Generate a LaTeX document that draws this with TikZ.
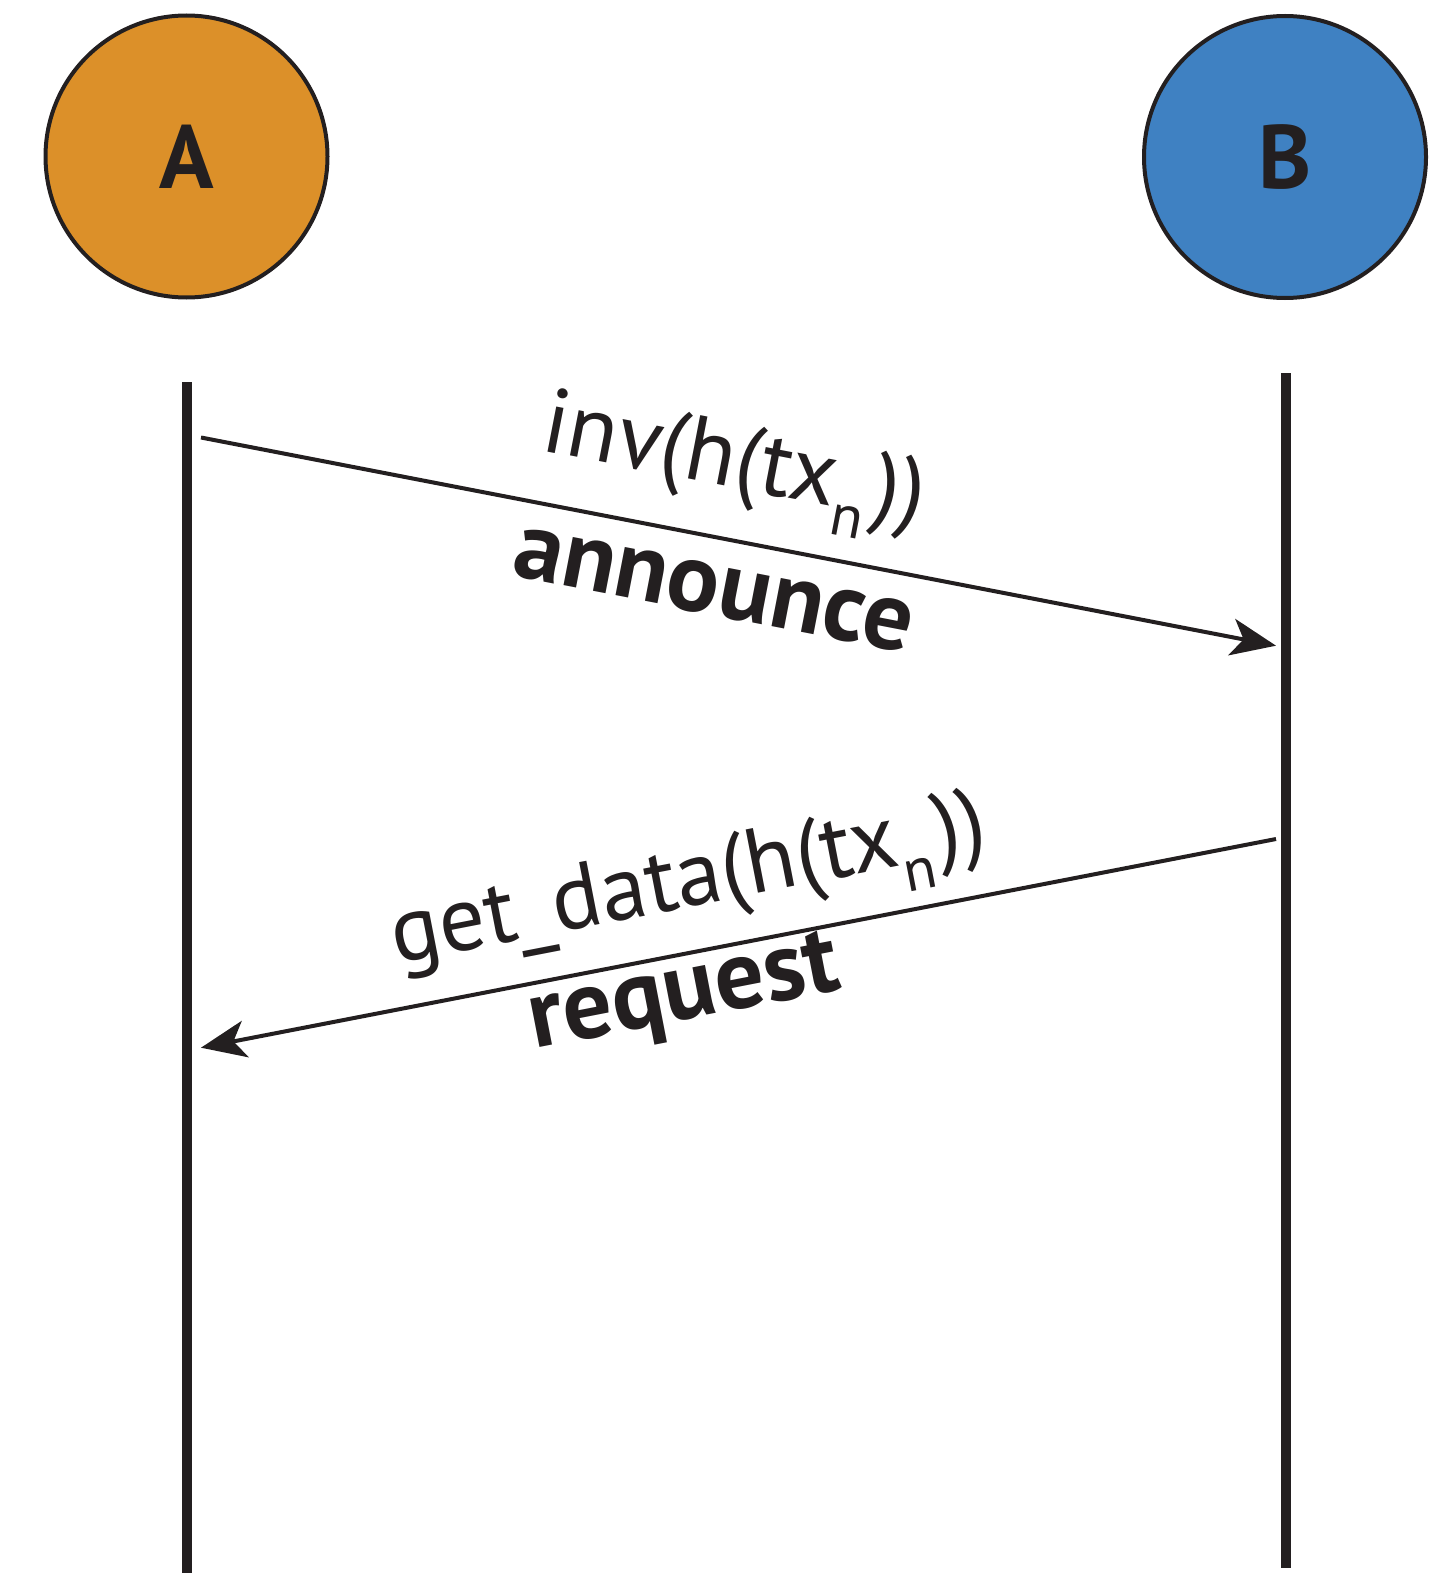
\documentclass[tikz,border=0pt]{standalone}
\usepackage{fontspec}
\setmainfont{PT Sans}
\usetikzlibrary{arrows.meta}
\definecolor{ink}{HTML}{231F20}
\definecolor{orangeA}{HTML}{DC9029}
\definecolor{blueB}{HTML}{3F81C2}
\newcommand\txsub[1]{\raisebox{-0.3em}{\fontsize{60}{60}\selectfont #1}\hspace{0.05em}}
\begin{document}
\begin{tikzpicture}[x=1pt,y=-1pt,
  actor/.style={circle, draw=ink, line width=4pt, minimum size=282pt, inner sep=0pt,
    text=ink, font=\fontsize{90}{90}\selectfont\bfseries},
  lifeline/.style={draw=ink, line width=9.5pt},
  msg/.style={draw=ink, line width=4pt, -{Stealth[length=45pt,width=37pt,inset=12pt]}},
  lbl/.style={text=ink, font=\fontsize{92}{92}\selectfont, inner sep=0pt, anchor=base},
  blbl/.style={text=ink, font=\fontsize{98}{98}\selectfont\bfseries, inner sep=0pt, anchor=base}]
\useasboundingbox (0,0) rectangle (1430,1573);
\node[actor, fill=orangeA] (A) at (186.5,156.5) {A};
\node[actor, fill=blueB] (B) at (1285,157) {B};
\coordinate (Atop) at (187,382);
\coordinate (Abot) at (187,1573);
\coordinate (Btop) at (1286,373);
\coordinate (Bbot) at (1286,1568);
\draw[lifeline] (Atop) -- (Abot);
\draw[lifeline] (Btop) -- (Bbot);
\coordinate (m1s) at (201,437.5);
\coordinate (m1e) at (1276,645.7);
\coordinate (m2s) at (1276,839);
\coordinate (m2e) at (201,1047.7);
\draw[msg] (m1s) -- (m1e);
\draw[msg] (m2s) -- (m2e);
\node[lbl, rotate=-10.96] (inv) at (729.6,487) {inv(h(tx\txsub{n}))};
\node[blbl, rotate=-10.96] (ann) at (709,614) {announce};
\node[lbl, rotate=10.99] (get) at (692.8,906.3) {get\_data(h(tx\txsub{n}))};
\node[blbl, rotate=10.99] (req) at (689,1019) {request};
\end{tikzpicture}
\end{document}
